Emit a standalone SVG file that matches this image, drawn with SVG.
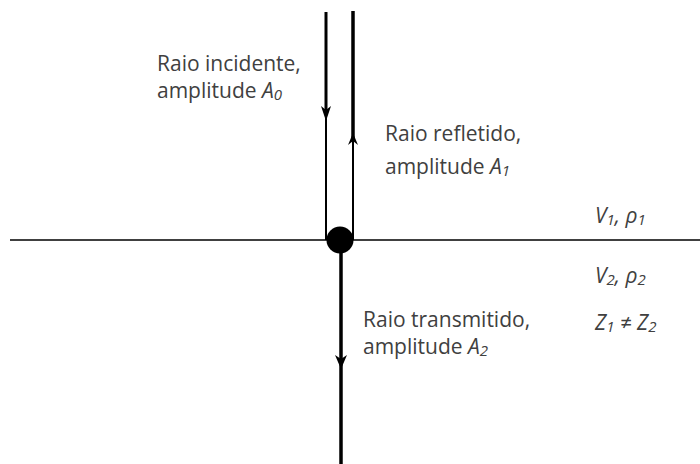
<svg xmlns="http://www.w3.org/2000/svg" width="700" height="464" viewBox="0 0 700 464">
<style>
.lbl{font-family:"Open Sans","Noto Sans",sans-serif;font-size:21px;fill:#404040}
.it{font-style:italic}
.sub{font-size:15px}
.ray{stroke:#000;fill:none}
.head{fill:#000}
</style>
<rect width="700" height="464" fill="#fff"/>
<g id="interface">
<line x1="10" y1="240" x2="700" y2="240" stroke="#404040" stroke-width="2"/>
</g>
<g id="connectors">
<line class="ray" x1="326" y1="12" x2="326" y2="110" stroke-width="3"/>
<line class="ray" x1="326" y1="110" x2="326" y2="240" stroke-width="2"/>
<polygon class="head" points="321,106 326,110 331,106 326,121"/>
<line class="ray" x1="353" y1="11" x2="353" y2="140" stroke-width="3.5"/>
<line class="ray" x1="353" y1="140" x2="353" y2="240" stroke-width="2"/>
<polygon class="head" points="353,133 358,145 353,141 348,145"/>
<line class="ray" x1="341" y1="240" x2="341" y2="464" stroke-width="3.5"/>
<polygon class="head" points="335,355 341,359 347,355 341,369"/>
</g>
<g id="point">
<circle cx="340" cy="240" r="13.5" fill="#000"/>
</g>
<g id="label-incidente">
<text class="lbl" x="157" y="71">Raio incidente,</text>
<text class="lbl" x="157" y="98">amplitude <tspan class="it">A</tspan><tspan class="it sub" dy="2">0</tspan></text>
</g>
<g id="label-refletido">
<text class="lbl" x="385" y="141">Raio refletido,</text>
<text class="lbl" x="385" y="174">amplitude <tspan class="it">A</tspan><tspan class="it sub" dy="2">1</tspan></text>
</g>
<g id="label-transmitido">
<text class="lbl" x="363" y="327">Raio transmitido,</text>
<text class="lbl" x="363" y="354">amplitude <tspan class="it">A</tspan><tspan class="it sub" dy="2">2</tspan></text>
</g>
<g id="label-meio1">
<text class="lbl it" x="595" y="223">V<tspan class="sub" dy="2">1</tspan><tspan dy="-2">, ρ</tspan><tspan class="sub" dy="2">1</tspan></text>
</g>
<g id="label-meio2">
<text class="lbl it" x="595" y="283">V<tspan class="sub" dy="2">2</tspan><tspan dy="-2">, ρ</tspan><tspan class="sub" dy="2">2</tspan></text>
</g>
<g id="label-impedancia">
<text class="lbl it" x="595" y="330">Z<tspan class="sub" dy="2">1</tspan><tspan dy="-2"> ≠ Z</tspan><tspan class="sub" dy="2">2</tspan></text>
</g>
</svg>
